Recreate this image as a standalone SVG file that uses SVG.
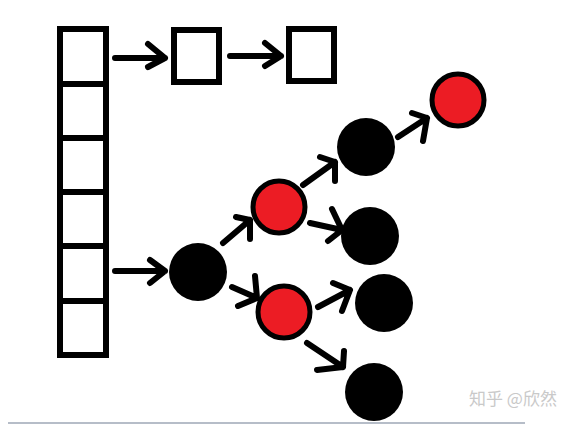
<svg xmlns="http://www.w3.org/2000/svg" width="575" height="426" viewBox="0 0 575 426">
<style>
.box{fill:#fff;stroke:#000;stroke-width:6}
.red{fill:#ec1c24;stroke:#000;stroke-width:5}
.blk{fill:#000}
.arr{fill:none;stroke:#000;stroke-width:6;stroke-linecap:round;stroke-linejoin:round}
.wm{font-family:"Noto Sans CJK SC","Liberation Sans",sans-serif;font-size:17px;fill:#c9c9c9}
</style>
<rect width="575" height="426" fill="#fff"/>
<g id="column">
<rect class="box" x="60" y="29" width="46" height="326"/>
<line class="box" x1="60" y1="84" x2="106" y2="84"/>
<line class="box" x1="60" y1="138" x2="106" y2="138"/>
<line class="box" x1="60" y1="192" x2="106" y2="192"/>
<line class="box" x1="60" y1="246" x2="106" y2="246"/>
<line class="box" x1="60" y1="301" x2="106" y2="301"/>
</g>
<g id="box2"><rect class="box" x="174" y="30" width="45" height="52"/></g>
<g id="box3"><rect class="box" x="289" y="29" width="45" height="52"/></g>
<g id="root"><circle class="blk" cx="198" cy="272" r="29"/></g>
<g id="redA"><circle class="red" cx="279" cy="207" r="26"/></g>
<g id="redB"><circle class="red" cx="284" cy="312" r="26"/></g>
<g id="blkA"><circle class="blk" cx="366" cy="147" r="29"/></g>
<g id="redTop"><circle class="red" cx="458" cy="100" r="26"/></g>
<g id="blkB"><circle class="blk" cx="370" cy="236" r="29"/></g>
<g id="blkC"><circle class="blk" cx="384" cy="303" r="29"/></g>
<g id="blkD"><circle class="blk" cx="374" cy="392" r="29"/></g>
<g id="connectors">
<path class="arr" d="M115 58H165M148 44L165 58L148 67"/>
<path class="arr" d="M230 56H281M265 43L281 56L265 66"/>
<path class="arr" d="M115 271H165M150 260L165 271L150 283"/>
<path class="arr" d="M223 243L250 220M236 217L250 220L250 239"/>
<path class="arr" d="M232 287L257 298M255 276L257 298L238 306"/>
<path class="arr" d="M303 185L335 162M320 157L335 162L335 181"/>
<path class="arr" d="M398 137L427 118M412 113L427 118L423 141"/>
<path class="arr" d="M310 223L342 230M332 209L342 230L328 241"/>
<path class="arr" d="M318 307L350 290M333 283L350 290L342 311"/>
<path class="arr" d="M307 343L343 367M344 351L343 367L317 370"/>
</g>
<rect x="8" y="422" width="517" height="2" fill="#b6bdc8"/>
<text class="wm" x="469" y="405">知乎 @欣然</text>
</svg>
